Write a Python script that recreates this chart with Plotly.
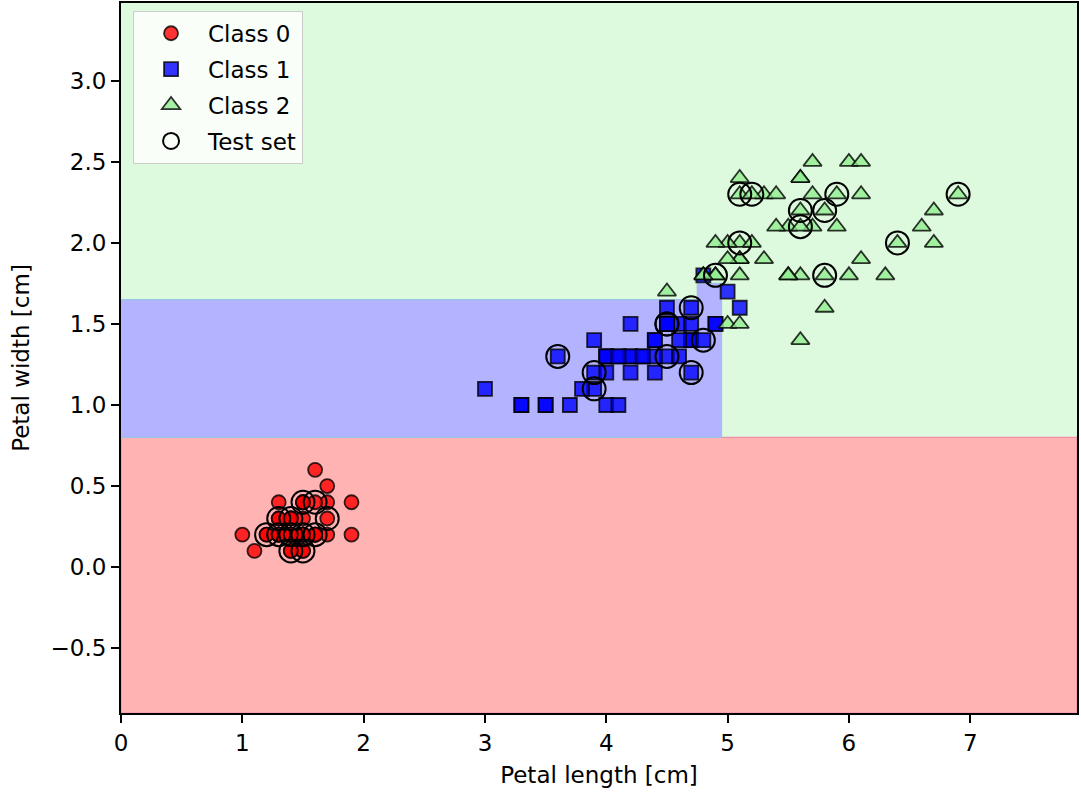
import plotly.graph_objects as go

# ---------------- data (Iris petal length / width) ----------------
class0_length = [1.4,1.4,1.3,1.5,1.4,1.7,1.4,1.5,1.4,1.5,1.5,1.6,1.4,1.1,1.2,1.5,1.3,1.4,1.7,1.5,
                 1.7,1.5,1.0,1.7,1.9,1.6,1.6,1.5,1.4,1.6,1.6,1.5,1.5,1.4,1.5,1.2,1.3,1.4,1.3,1.5,
                 1.3,1.3,1.3,1.6,1.9,1.4,1.6,1.4,1.5,1.4]
class0_width = [0.2,0.2,0.2,0.2,0.2,0.4,0.3,0.2,0.2,0.1,0.2,0.2,0.1,0.1,0.2,0.4,0.4,0.3,0.3,0.3,
                0.2,0.4,0.2,0.5,0.2,0.2,0.4,0.2,0.2,0.2,0.2,0.4,0.1,0.2,0.2,0.2,0.2,0.1,0.2,0.2,
                0.3,0.3,0.2,0.6,0.4,0.3,0.2,0.2,0.2,0.2]

class1_length = [4.7,4.5,4.9,4.0,4.6,4.5,4.7,3.3,4.6,3.9,3.5,4.2,4.0,4.7,3.6,4.4,4.5,4.1,4.5,3.9,
                 4.8,4.0,4.9,4.7,4.3,4.4,4.8,5.0,4.5,3.5,3.8,3.7,3.9,5.1,4.5,4.5,4.7,4.4,4.1,4.0,
                 4.4,4.6,4.0,3.3,4.2,4.2,4.2,4.3,3.0,4.1]
class1_width = [1.4,1.5,1.5,1.3,1.5,1.3,1.6,1.0,1.3,1.4,1.0,1.5,1.0,1.4,1.3,1.4,1.5,1.0,1.5,1.1,
                1.8,1.3,1.5,1.2,1.3,1.4,1.4,1.7,1.5,1.0,1.1,1.0,1.2,1.6,1.5,1.6,1.5,1.3,1.3,1.3,
                1.2,1.4,1.2,1.0,1.3,1.2,1.3,1.3,1.1,1.3]

class2_length = [6.0,5.1,5.9,5.6,5.8,6.6,4.5,6.3,5.8,6.1,5.1,5.3,5.5,5.0,5.1,5.3,5.5,6.7,6.9,5.0,
                 5.7,4.9,6.7,4.9,5.7,6.0,4.8,4.9,5.6,5.8,6.1,6.4,5.6,5.1,5.6,6.1,5.6,5.5,4.8,5.4,
                 5.6,5.1,5.1,5.9,5.7,5.2,5.0,5.2,5.4,5.1]
class2_width = [2.5,1.9,2.1,1.8,2.2,2.1,1.7,1.8,1.8,2.5,2.0,1.9,2.1,2.0,2.4,2.3,1.8,2.2,2.3,1.5,
                2.3,2.0,2.0,1.8,2.1,1.8,1.8,1.8,2.1,1.6,1.9,2.0,2.2,1.5,1.4,2.3,2.4,1.8,1.8,2.1,
                2.4,2.3,1.9,2.3,2.5,2.3,1.9,2.0,2.3,1.8]

test_length = [1.5,1.6,1.7,1.4,1.3,1.4,1.5,1.2,1.3,1.6,1.4,1.5,
               4.7,4.5,4.5,4.8,4.5,4.7,3.6,3.9,3.9,
               5.1,5.2,5.6,5.6,5.8,5.9,5.1,4.9,5.8,6.9,6.4]
test_width = [0.4,0.4,0.3,0.3,0.3,0.1,0.1,0.2,0.2,0.2,0.2,0.2,
              1.6,1.5,1.5,1.4,1.3,1.2,1.3,1.2,1.1,
              2.3,2.3,2.2,2.1,2.2,2.3,2.0,1.8,1.8,2.3,2.0]

# decision regions (polygon vertices in data units)
grid_x = [0.0, 7.88]
grid_y = [-0.9, 3.48]
split_width_low = 0.8
split_width_high = 1.65
split_width_notch = 1.75
split_length_notch = 4.75
split_length = 4.95

region_green_x = [grid_x[0], grid_x[1], grid_x[1], grid_x[0]]
region_green_y = [grid_y[0], grid_y[0], grid_y[1], grid_y[1]]
region_red_x = [grid_x[0], grid_x[1], grid_x[1], grid_x[0]]
region_red_y = [grid_y[0], grid_y[0], split_width_low, split_width_low]
region_blue_x = [grid_x[0], split_length, split_length, split_length_notch, split_length_notch, grid_x[0]]
region_blue_y = [split_width_low, split_width_low, split_width_notch, split_width_notch,
                 split_width_high, split_width_high]

x_ticks = [0, 1, 2, 3, 4, 5, 6, 7]
y_ticks = [-0.5, 0.0, 0.5, 1.0, 1.5, 2.0, 2.5, 3.0]


def path_of(xs, ys):
    pts = " L ".join(f"{x} {y}" for x, y in zip(xs, ys))
    return "M " + pts + " Z"


FONT = "DejaVu Sans"
FS = 23

fig = go.Figure()

fig.add_trace(go.Scatter(
    x=class0_length, y=class0_width, mode="markers", name="Class 0", legendgroup="c0",
    marker=dict(symbol="circle", size=14, color="rgba(255,0,0,0.8)",
                line=dict(color="rgba(0,0,0,0.8)", width=1.8))))
fig.add_trace(go.Scatter(
    x=class1_length, y=class1_width, mode="markers", name="Class 1", legendgroup="c1",
    marker=dict(symbol="square", size=14, color="rgba(0,0,255,0.8)",
                line=dict(color="rgba(0,0,0,0.8)", width=1.8))))
fig.add_trace(go.Scatter(
    x=class2_length, y=class2_width, mode="markers", name="Class 2", legendgroup="c2",
    marker=dict(symbol="triangle-up", size=16, color="rgba(144,238,144,0.8)",
                line=dict(color="rgba(0,0,0,0.8)", width=1.8))))
fig.add_trace(go.Scatter(
    x=test_length, y=test_width, mode="markers", name="Test set", legendgroup="test",
    marker=dict(symbol="circle", size=23, color="rgba(0,0,0,0)",
                line=dict(color="black", width=2))))

shapes = [
    dict(type="path", xref="x", yref="y", layer="below",
         path=path_of(region_green_x, region_green_y),
         fillcolor="#defade", line=dict(width=0)),
    dict(type="path", xref="x", yref="y", layer="below",
         path=path_of(region_red_x, region_red_y),
         fillcolor="#ffb3b3", line=dict(color="#ee8fa6", width=1.2)),
    dict(type="path", xref="x", yref="y", layer="below",
         path=path_of(region_blue_x, region_blue_y),
         fillcolor="#b3b3ff", line=dict(color="#9cc3e6", width=1.2)),
]

axis_common = dict(
    showline=True, mirror=True, linecolor="black", linewidth=1.9,
    ticks="outside", ticklen=8, tickwidth=1.9, tickcolor="black",
    showgrid=False, zeroline=False,
    tickfont=dict(family=FONT, size=FS, color="black"),
)

fig.update_layout(
    width=1081, height=792,
    margin=dict(l=121, r=4, t=1, b=79),
    paper_bgcolor="white", plot_bgcolor="white",
    shapes=shapes,
    font=dict(family=FONT, size=FS, color="black"),
    xaxis=dict(range=grid_x, tickvals=x_ticks, ticktext=[str(v) for v in x_ticks],
               title=dict(text="Petal length [cm]", font=dict(family=FONT, size=FS), standoff=12),
               **axis_common),
    yaxis=dict(range=grid_y, tickvals=y_ticks, tickformat=".1f",
               title=dict(text="Petal width [cm]", font=dict(family=FONT, size=FS), standoff=15),
               **axis_common),
    legend=dict(x=0.0126, y=0.989, xanchor="left", yanchor="top",
                bgcolor="rgba(255,255,255,0.8)", bordercolor="#cccccc", borderwidth=1,
                font=dict(family=FONT, size=FS), itemwidth=64, tracegroupgap=3),
    showlegend=True,
)

fig.write_html("out.html")
